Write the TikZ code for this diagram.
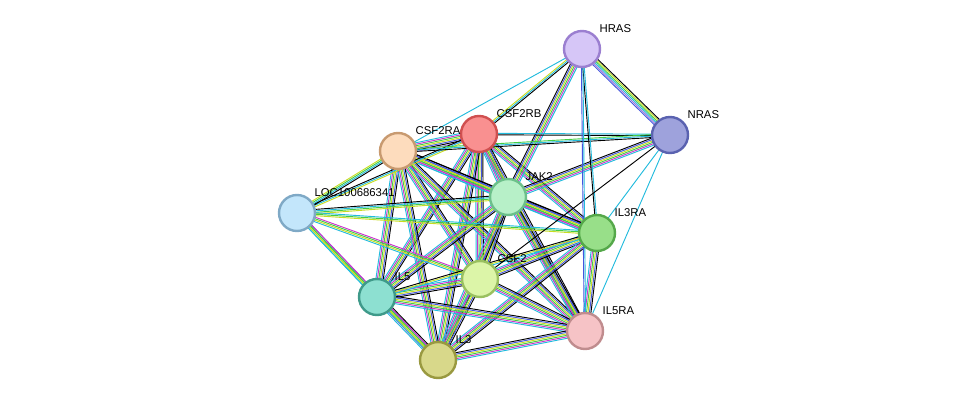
\documentclass[tikz,border=0pt]{standalone}
\usepackage{fontspec}
\setmainfont{Liberation Sans}
\usetikzlibrary{calc,backgrounds}
\definecolor{ecyan}{HTML}{22BBDD}
\definecolor{emag}{HTML}{CC33CC}
\definecolor{egreen}{HTML}{44CC44}
\definecolor{elime}{HTML}{C8DC22}
\definecolor{eblue}{HTML}{4455DD}
\definecolor{epurp}{HTML}{9977DD}
\tikzset{
  prot/.style 2 args={circle, draw/.expanded={hx#2}, fill/.expanded={hx#1}, line width=1.8pt, minimum size=27pt, inner sep=0pt},
  plabel/.style={font=\fontsize{8.5}{10}\selectfont, anchor=south west, inner sep=1pt}
}
\newcommand\defhx[1]{\definecolor{hx#1}{HTML}{#1}}
\defhx{D6C6F7}\defhx{9B7FD0}\defhx{9EA2DC}\defhx{5A62B0}\defhx{F99090}\defhx{D05050}
\defhx{FDDCBD}\defhx{C89A70}\defhx{B7F0C8}\defhx{6CC08A}\defhx{C3E6FB}\defhx{7FA9C6}
\defhx{98DF89}\defhx{55A84A}\defhx{DCF5A8}\defhx{9AC060}\defhx{8DE0D1}\defhx{3F9A8A}
\defhx{F6C3C6}\defhx{C08C8E}\defhx{D8D88A}\defhx{999940}
% bundle of parallel coloured lines between two nodes
\newcommand\lnk[3]{%
  \edef\lst{#3}%
  \foreach \c [count=\i] in \lst {\xdef\nb{\i}}%
  \foreach \c [count=\i] in \lst {%
    \pgfmathsetmacro\off{(\i-(\nb+1)/2)*1.1}%
    \draw[\c, line width=0.7pt] ($(#1)!\off pt!90:(#2)$) -- ($(#2)!\off pt!-90:(#1)$);
  }}
\newcommand\full{ecyan,emag,egreen,elime,eblue,black}
\begin{document}
\begin{tikzpicture}[x=0.75pt,y=-0.75pt]
\useasboundingbox (0,0) rectangle (975,406);
\node[prot={D6C6F7}{9B7FD0}] (hras) at (582,49) {};
\node[prot={9EA2DC}{5A62B0}] (nras) at (670,135) {};
\node[prot={F99090}{D05050}] (csf2rb) at (479,134) {};
\node[prot={FDDCBD}{C89A70}] (csf2ra) at (398,151) {};
\node[prot={B7F0C8}{6CC08A}] (jak2) at (508,197) {};
\node[prot={C3E6FB}{7FA9C6}] (loc) at (297,213) {};
\node[prot={98DF89}{55A84A}] (il3ra) at (597,233) {};
\node[prot={DCF5A8}{9AC060}] (csf2) at (480,279) {};
\node[prot={8DE0D1}{3F9A8A}] (il5) at (377,297) {};
\node[prot={F6C3C6}{C08C8E}] (il5ra) at (585,331) {};
\node[prot={D8D88A}{999940}] (il3) at (438,360) {};
\node[plabel] at (598,34) {HRAS};
\node[plabel] at (686,120) {NRAS};
\node[plabel] at (495,119) {CSF2RB};
\node[plabel] at (414,136) {CSF2RA};
\node[plabel] at (524,182) {JAK2};
\node[plabel] at (313,198) {LOC100686341};
\node[plabel] at (613,218) {IL3RA};
\node[plabel] at (496,264) {CSF2};
\node[plabel] at (393,282) {IL5};
\node[plabel] at (601,316) {IL5RA};
\node[plabel] at (454,345) {IL3};
\begin{pgfonlayer}{background}
\lnk{csf2rb}{csf2ra}{ecyan,emag,egreen,elime,eblue,black,epurp}
\foreach \t in {jak2,il3ra,csf2,il5,il3,il5ra} {\lnk{csf2rb}{\t}{\full}}
\foreach \t in {jak2,il3ra,csf2,il5,il3,il5ra} {\lnk{csf2ra}{\t}{\full}}
\foreach \t in {hras,nras,il3ra,csf2,il5,il3,il5ra} {\lnk{jak2}{\t}{\full}}
\foreach \t in {csf2,il3,il5ra} {\lnk{il3ra}{\t}{\full}}
\foreach \t in {il5,il3,il5ra} {\lnk{csf2}{\t}{\full}}
\lnk{il5}{il5ra}{\full}
\lnk{il5}{il3}{\full}
\lnk{il3}{il5ra}{\full}
\lnk{csf2rb}{loc}{black,ecyan,elime}
\lnk{csf2rb}{nras}{black,ecyan}
\lnk{csf2rb}{hras}{black,ecyan,elime}
\lnk{csf2ra}{loc}{elime,egreen,ecyan,black}
\lnk{csf2ra}{nras}{black,ecyan,egreen}
\lnk{csf2ra}{hras}{ecyan}
\lnk{jak2}{loc}{black,ecyan,egreen,elime}
\lnk{loc}{il5}{ecyan,elime,egreen,eblue}
\lnk{loc}{il3}{ecyan,elime,egreen,emag}
\lnk{loc}{csf2}{ecyan,elime,egreen,emag}
\lnk{loc}{il3ra}{elime,egreen,ecyan}
\lnk{il3ra}{il5}{black,elime,ecyan}
\lnk{il3ra}{hras}{ecyan,black}
\lnk{il3ra}{nras}{ecyan}
\lnk{csf2}{nras}{black}
\lnk{il5ra}{hras}{ecyan,eblue}
\lnk{il5ra}{nras}{ecyan}
\lnk{hras}{nras}{eblue,epurp,ecyan,egreen,elime,black}
\end{pgfonlayer}
\end{tikzpicture}
\end{document}
